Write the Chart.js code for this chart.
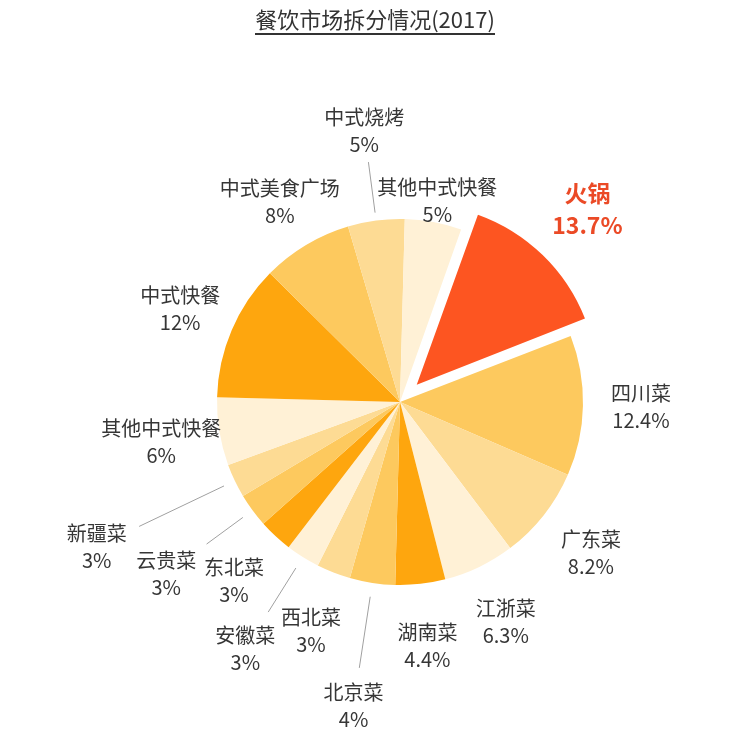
<!DOCTYPE html>
<html>
<head>
<meta charset="utf-8">
<script src="https://cdn.jsdelivr.net/npm/chart.js@4"></script>
<style>
  html, body { margin: 0; padding: 0; background: #fff; }
  #wrap { position: relative; width: 750px; height: 742px; overflow: hidden; }
  #title { position: absolute; top: 7px; left: 0; width: 750px; text-align: center; }
  #title span {
    font-family: "Noto Sans CJK SC", "Noto Sans", sans-serif;
    font-size: 22px; line-height: 22px; color: #333;
    display: inline-block; padding-bottom: 4px; border-bottom: 2px solid #333;
  }
  canvas { position: absolute; left: 0; top: 0; }
</style>
</head>
<body>
<div id="wrap">
  <canvas id="c" width="750" height="742"></canvas>
  <div id="title"><span>餐饮市场拆分情况(2017)</span></div>
</div>
<script>
// ---- data ----
const categories = ['火锅', '四川菜', '广东菜', '江浙菜', '湖南菜', '北京菜', '西北菜', '安徽菜',
                    '东北菜', '云贵菜', '新疆菜', '其他中式快餐', '中式快餐', '中式美食广场', '中式烧烤', '其他中式快餐'];
const shares = [13.7, 12.4, 8.2, 6.3, 4.4, 4, 3, 3, 3, 3, 3, 6, 12, 8, 5, 5];

// ---- styling / layout ----
const RED = '#FD5521', DARK = '#FEA60E', MID = '#FDC95E', LIGHT = '#FDDB94', PALE = '#FFF1D6';
const sliceColors = [RED, MID, LIGHT, PALE, DARK, MID, LIGHT, PALE, DARK, MID, LIGHT, PALE, DARK, MID, LIGHT, PALE];
const labelRadius = [269, 241, 243, 244, 245, 307, 245, 291, 244, 290, 336, 242, 239, 234, 274, 205];
const leaderLines = { 5: [197, 269], 7: [196, 248], 9: [195, 240], 10: [195, 289], 14: [191, 242] };

const shrinkExploded = {
  id: 'shrinkExploded',
  afterDatasetUpdate(chart) {
    const arc = chart.getDatasetMeta(0).data[0];
    if (arc) arc.outerRadius = arc.outerRadius - 8;
  }
};

const labelPlugin = {
  id: 'sliceLabels',
  afterDatasetsDraw(chart) {
    const ctx = chart.ctx;
    const meta = chart.getDatasetMeta(0);
    ctx.save();
    meta.data.forEach((arc, i) => {
      const mid = (arc.startAngle + arc.endAngle) / 2;
      const cx = arc.x, cy = arc.y;
      const cos = Math.cos(mid), sin = Math.sin(mid);
      if (leaderLines[i]) {
        const [r0, r1] = leaderLines[i];
        ctx.beginPath();
        ctx.strokeStyle = '#a0a0a0';
        ctx.lineWidth = 1;
        ctx.moveTo(cx + cos * r0, cy + sin * r0);
        ctx.lineTo(cx + cos * r1, cy + sin * r1);
        ctx.stroke();
      }
      const r = labelRadius[i];
      const x = cx + cos * r, y = cy + sin * r;
      const name = chart.data.labels[i];
      const pct = chart.data.datasets[0].data[i] + '%';
      ctx.textAlign = 'center';
      ctx.textBaseline = 'middle';
      if (i === 0) {
        ctx.fillStyle = '#EB4A26';
        ctx.font = 'bold 23px "Noto Sans CJK SC", "Noto Sans", sans-serif';
        ctx.fillText(name, x, y - 16);
        ctx.fillText(pct, x, y + 16);
      } else {
        ctx.fillStyle = '#363636';
        ctx.font = '20px "Noto Sans CJK SC", "Noto Sans", sans-serif';
        ctx.fillText(name, x, y - 13);
        ctx.fillText(pct, x, y + 14);
      }
    });
    ctx.restore();
  }
};

new Chart(document.getElementById('c'), {
  type: 'pie',
  data: {
    labels: categories,
    datasets: [{
      data: shares,
      backgroundColor: sliceColors,
      borderWidth: 0,
      offset: shares.map((v, i) => i === 0 ? 96 : 0),
      radius: 183
    }]
  },
  options: {
    responsive: false,
    animation: false,
    rotation: 19.5,
    layout: { padding: { left: 50, right: 0, top: 62, bottom: 0 } },
    plugins: { legend: { display: false }, tooltip: { enabled: false }, title: { display: false } }
  },
  plugins: [shrinkExploded, labelPlugin]
});
</script>
</body>
</html>
